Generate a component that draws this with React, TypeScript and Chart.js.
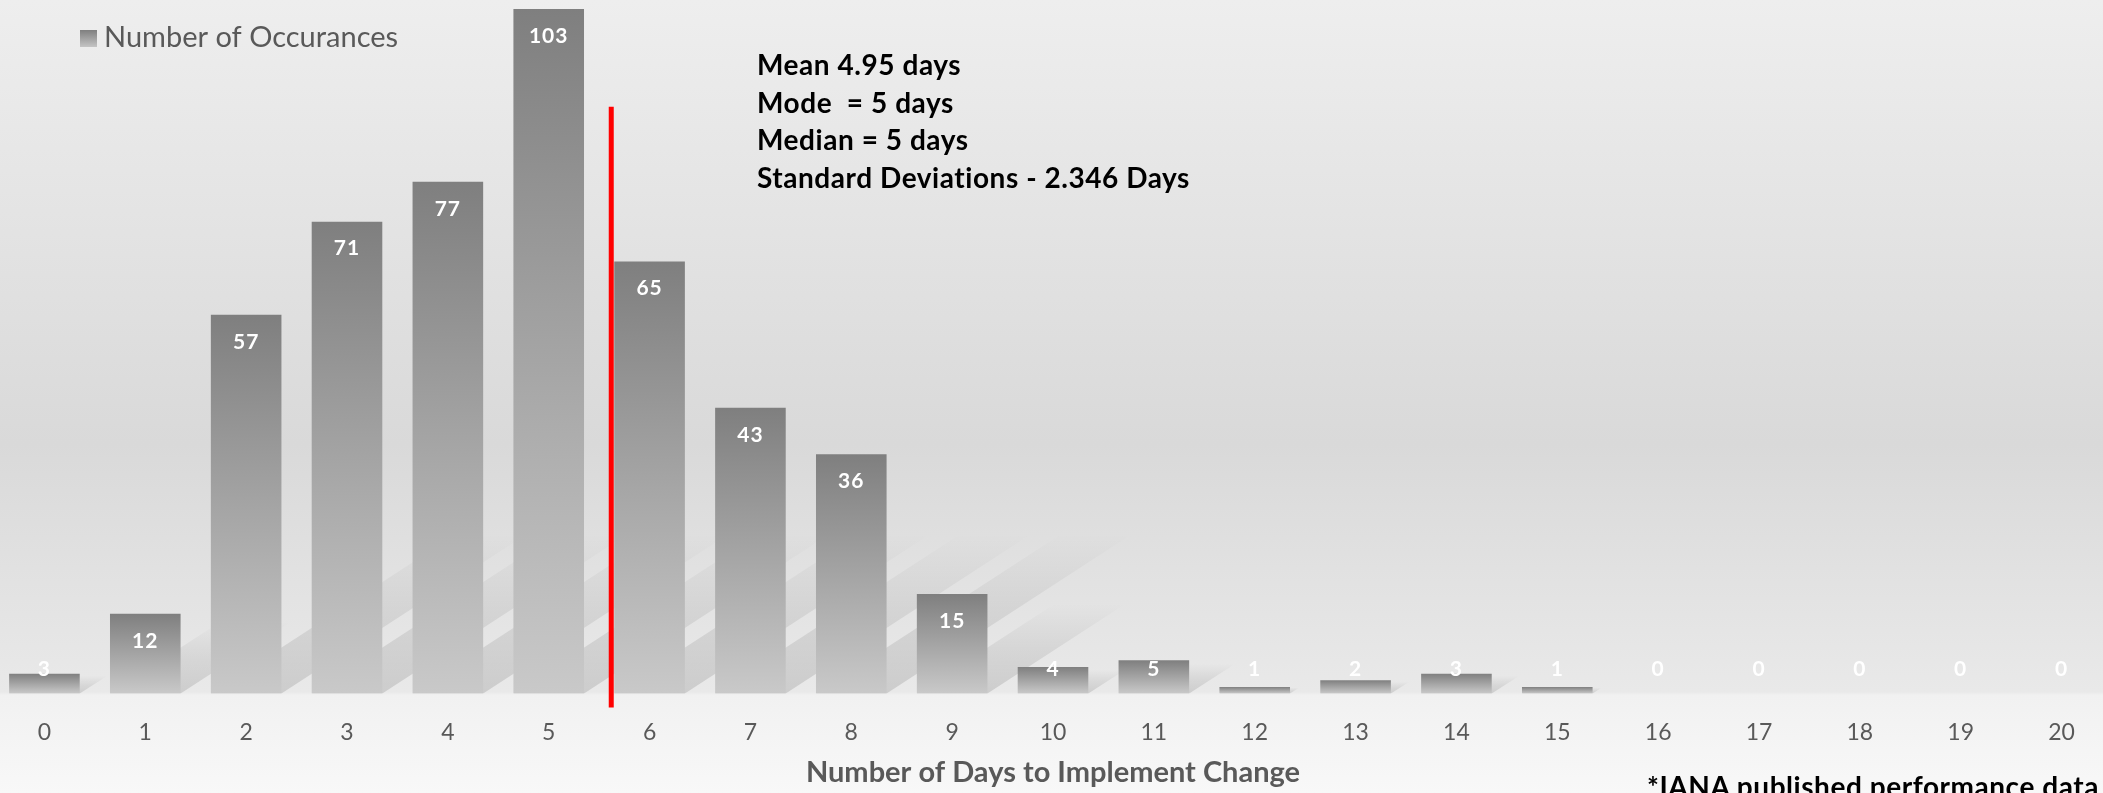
import React, { useEffect, useRef } from "react";
import { Chart, registerables } from "chart.js";

Chart.register(...registerables);

const categories = ["0", "1", "2", "3", "4", "5", "6", "7", "8", "9", "10", "11", "12", "13", "14", "15", "16", "17", "18", "19", "20"];
const occurrences = [3, 12, 57, 71, 77, 103, 65, 43, 36, 15, 4, 5, 1, 2, 3, 1, 0, 0, 0, 0, 0];
const seriesLabel = "Number of Occurances";
const axisTitle = "Number of Days to Implement Change";
const statLines = ["Mean 4.95 days", "Mode  = 5 days", "Median = 5 days", "Standard Deviations - 2.346 Days"];
const footnote = "*IANA published performance data";
const meanLinePosition = 5.62; // in category units
const meanLineTopValue = 88.3; // in y units
const yMax = 103;

const FONT = "Lato, 'Open Sans', sans-serif";

const bgPlugin = {
  id: "bgPlugin",
  beforeDraw(chart: any) {
    const { ctx, width, height } = chart;
    const base = chart.scales.y.getPixelForValue(0);
    const b = base / height;
    const g = ctx.createLinearGradient(0, 0, 0, height);
    g.addColorStop(0, "#eeeeee");
    g.addColorStop(0.56, "#d9d9d9");
    g.addColorStop(b - 0.002, "#e9e9e9");
    g.addColorStop(b + 0.002, "#f1f1f1");
    g.addColorStop(1, "#f8f8f8");
    ctx.save();
    ctx.fillStyle = g;
    ctx.fillRect(0, 0, width, height);
    ctx.restore();
  },
};

const shadowPlugin = {
  id: "shadowPlugin",
  beforeDatasetsDraw(chart: any) {
    const { ctx, chartArea } = chart;
    const meta = chart.getDatasetMeta(0);
    ctx.save();
    ctx.beginPath();
    ctx.rect(chartArea.left, chartArea.top, chartArea.right - chartArea.left, chartArea.bottom - chartArea.top);
    ctx.clip();
    meta.data.forEach((el: any) => {
      const { x, y, base, width } = el.getProps(["x", "y", "base", "width"], true);
      const H = base - y;
      const s = Math.min(H * 0.9, 160);
      if (s < 1) return;
      const dx = s / 0.65;
      const L = x - width / 2;
      const R = x + width / 2;
      const g = ctx.createLinearGradient(0, base, 0, base - s);
      g.addColorStop(0, "rgba(0,0,0,0.12)");
      g.addColorStop(0.5, "rgba(0,0,0,0.07)");
      g.addColorStop(1, "rgba(0,0,0,0)");
      ctx.fillStyle = g;
      ctx.beginPath();
      ctx.moveTo(L, base);
      ctx.lineTo(R, base);
      ctx.lineTo(R + dx, base - s);
      ctx.lineTo(L + dx, base - s);
      ctx.closePath();
      ctx.fill();
    });
    ctx.restore();
  },
};

const overlayPlugin = {
  id: "overlayPlugin",
  afterDatasetsDraw(chart: any) {
    const { ctx } = chart;
    const xs = chart.scales.x;
    const ys = chart.scales.y;
    const base = ys.getPixelForValue(0);
    // mean line
    const i = Math.floor(meanLinePosition);
    const p0 = xs.getPixelForValue(i);
    const p1 = xs.getPixelForValue(i + 1);
    const lx = p0 + (meanLinePosition - i) * (p1 - p0);
    ctx.save();
    ctx.strokeStyle = "#ff0000";
    ctx.lineWidth = 5;
    ctx.beginPath();
    ctx.moveTo(lx, ys.getPixelForValue(meanLineTopValue));
    ctx.lineTo(lx, base + 14);
    ctx.stroke();
    ctx.restore();
    // data labels
    const meta = chart.getDatasetMeta(0);
    ctx.save();
    ctx.fillStyle = "#ffffff";
    ctx.font = `bold 21px ${FONT}`;
    try {
      (ctx as any).letterSpacing = "1px";
    } catch (e) {}
    ctx.textAlign = "center";
    ctx.textBaseline = "middle";
    meta.data.forEach((el: any, idx: number) => {
      const { x, y } = el.getProps(["x", "y"], true);
      const ly = Math.min(y + 27, base - 24);
      ctx.fillText(String(occurrences[idx]), x, ly);
    });
    ctx.restore();
  },
  afterDraw(chart: any) {
    const { ctx } = chart;
    ctx.save();
    const g = ctx.createLinearGradient(0, 30, 0, 47);
    g.addColorStop(0, "#7f7f7f");
    g.addColorStop(1, "#c4c4c4");
    ctx.fillStyle = g;
    ctx.fillRect(86, 30, 17, 17);
    ctx.fillStyle = "#595959";
    ctx.font = `29px ${FONT}`;
    ctx.textAlign = "left";
    ctx.textBaseline = "alphabetic";
    ctx.fillText(chart.data.datasets[0].label, 110, 47);
    ctx.restore();
  },
};

export default function App() {
  const canvasRef = useRef<HTMLCanvasElement | null>(null);

  useEffect(() => {
    document.body.style.overflow = "hidden";
    const canvas = canvasRef.current;
    if (!canvas) return;
    const chart = new Chart(canvas, {
      type: "bar",
      data: {
        labels: categories,
        datasets: [
          {
            label: seriesLabel,
            data: occurrences,
            categoryPercentage: 1,
            barPercentage: 0.7,
            borderWidth: 0,
            backgroundColor: (c: any) => {
              const ch = c.chart;
              if (!ch.chartArea || !ch.scales.y) return "#a0a0a0";
              const ys = ch.scales.y;
              const v = c.raw ?? 0;
              const top = ys.getPixelForValue(v);
              const bottom = ys.getPixelForValue(0);
              if (bottom - top < 1) return "#a0a0a0";
              const g = ch.ctx.createLinearGradient(0, top, 0, bottom);
              g.addColorStop(0, "#7f7f7f");
              g.addColorStop(1, "#c9c9c9");
              return g;
            },
          },
        ],
      },
      options: {
        responsive: false,
        animation: false,
        layout: { padding: { top: 9, left: 0, right: 0, bottom: 0 } },
        plugins: {
          legend: { display: false },
          tooltip: { enabled: false },
        },
        scales: {
          x: {
            offset: true,
            grid: { display: false, drawTicks: false },
            border: { display: false },
            ticks: {
              color: "#595959",
              font: { family: FONT, size: 23, lineHeight: 1.2 },
              padding: 25,
              maxRotation: 0,
              autoSkip: false,
            },
            title: {
              display: true,
              text: axisTitle,
              color: "#595959",
              font: { family: FONT, size: 29, weight: "bold", lineHeight: 1.2 },
              padding: { top: -16, bottom: 3 },
            },
          },
          y: {
            display: false,
            min: 0,
            max: yMax,
          },
        },
      },
      plugins: [bgPlugin, shadowPlugin, overlayPlugin],
    } as any);
    return () => chart.destroy();
  }, []);

  const textStyle: React.CSSProperties = {
    position: "fixed",
    fontFamily: FONT,
    fontWeight: 700,
    fontSize: "28px",
    letterSpacing: "0.55px",
    lineHeight: "37.7px",
    color: "#000000",
    whiteSpace: "pre",
    margin: 0,
  };

  return (
    <div>
      <canvas
        ref={canvasRef}
        width={2118}
        height={793}
        style={{ position: "fixed", left: -6, top: 0, width: 2118, height: 793 }}
      />
      <div style={{ ...textStyle, left: 757, top: 46 }}>
        {statLines.map((l) => (
          <div key={l}>{l}</div>
        ))}
      </div>
      <div style={{ ...textStyle, left: 1647, top: 768 }}>{footnote}</div>
    </div>
  );
}
